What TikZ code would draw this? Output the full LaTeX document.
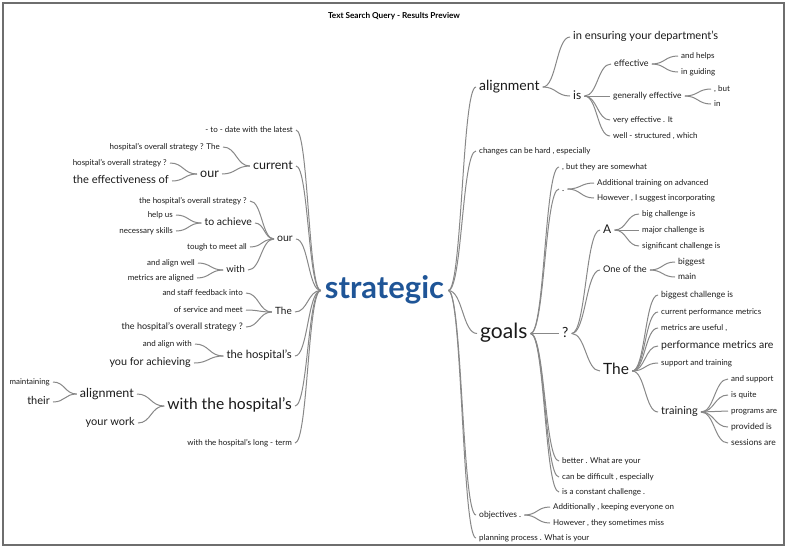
\documentclass[tikz,border=0pt]{standalone}
\usepackage{fontspec}
\setmainfont{Lato}
\usetikzlibrary{calc}

\definecolor{wordink}{HTML}{1A1A1A}
\definecolor{rootblue}{HTML}{1F5597}
\definecolor{linkgray}{HTML}{888888}
\definecolor{framegray}{HTML}{6E6E6E}

\tikzset{
  fs/.style={font=\fontsize{#1}{#1}\selectfont, text height=#1*0.76pt, text depth=#1*0.25pt},
  lw/.style={anchor=east, inner xsep=3pt, inner ysep=0pt, text=wordink},
  rw/.style={anchor=west, inner xsep=3pt, inner ysep=0pt, text=wordink},
  link/.style={draw=linkgray, line width=1pt,
    to path={let \p1=(\tikztostart), \p2=(\tikztotarget) in
      .. controls ({(\x1+\x2)/2},\y1) and ({(\x1+\x2)/2},\y2) .. (\tikztotarget)}},
}

\begin{document}
\begin{tikzpicture}[x=1pt, y=-1pt]
    \useasboundingbox (0,0) rectangle (788,550);
    \draw[framegray, line width=1.3pt] (3,3) rectangle (784,545);
    \node[font=\bfseries\fontsize{8.2}{8.2}\selectfont] (title) at (394,16) {Text Search Query - Results Preview};

    \node[fs=31, text=rootblue, font=\bfseries\fontsize{31}{31}\selectfont, inner xsep=4pt] (root) at (384.5,290.5) {strategic};

    % left side
    \node[lw, fs=8] (c1) at (296,130) {- to - date with the latest};
    \node[lw, fs=12.5] (cur) at (296,166) {current};
    \node[lw, fs=8] (cur1) at (223,147) {hospital's overall strategy ? The};
    \node[lw, fs=12.5] (our1) at (222,174) {our};
    \node[lw, fs=8] (our1a) at (170,163) {hospital's overall strategy ?};
    \node[lw, fs=11.1] (our1b) at (172,181) {the effectiveness of};
    \node[lw, fs=10.5] (our2) at (296,239) {our};
    \node[lw, fs=8] (our2a) at (250,201) {the hospital's overall strategy ?};
    \node[lw, fs=10.5] (ach) at (255,223) {to achieve};
    \node[lw, fs=8] (ach1) at (176,215) {help us};
    \node[lw, fs=8] (ach2) at (176,231) {necessary skills};
    \node[lw, fs=8] (our2c) at (250,247) {tough to meet all};
    \node[lw, fs=9.5] (with) at (248,270) {with};
    \node[lw, fs=8] (with1) at (198,263) {and align well};
    \node[lw, fs=8] (with2) at (197,278) {metrics are aligned};
    \node[lw, fs=10] (the) at (295,312) {The};
    \node[lw, fs=8] (the1) at (246,293) {and staff feedback into};
    \node[lw, fs=8] (the2) at (246,310) {of service and meet};
    \node[lw, fs=9] (the3) at (246,327) {the hospital's overall strategy ?};
    \node[lw, fs=11.3] (hosp) at (295,356) {the hospital's};
    \node[lw, fs=8] (hosp1) at (195,344) {and align with};
    \node[lw, fs=10.8] (hosp2) at (194,363) {you for achieving};
    \node[lw, fs=15.6] (wth) at (295,406) {with the hospital's};
    \node[lw, fs=12.5] (lal) at (137,394) {alignment};
    \node[lw, fs=7.9] (lal1) at (53,382) {maintaining};
    \node[lw, fs=11] (lal2) at (53,402) {their};
    \node[lw, fs=11] (work) at (138,423) {your work};
    \node[lw, fs=8] (long) at (295,443) {with the hospital's long - term};

    % right side
    \node[rw, fs=14] (ral) at (476,87) {alignment};
    \node[rw, fs=11.1] (ens) at (570,37) {in ensuring your department's};
    \node[rw, fs=12] (is) at (570,96) {is};
    \node[rw, fs=9] (eff) at (611,64) {effective};
    \node[rw, fs=8] (eff1) at (678,56) {and helps};
    \node[rw, fs=8] (eff2) at (678,72) {in guiding};
    \node[rw, fs=8.5] (gen) at (610,96) {generally effective};
    \node[rw, fs=8] (gen1) at (711,89) {, but};
    \node[rw, fs=8] (gen2) at (711,104) {in};
    \node[rw, fs=8] (very) at (610,120) {very effective . It};
    \node[rw, fs=8] (well) at (610,136) {well - structured , which};
    \node[rw, fs=8] (chg) at (476,151) {changes can be hard , especially};
    \node[rw, fs=21] (goals) at (477,333.5) {goals};
    \node[rw, fs=8] (g1) at (559,167) {, but they are somewhat};
    \node[rw, fs=9] (dot) at (559,189) {.};
    \node[rw, fs=8] (dot1) at (594,183) {Additional training on advanced};
    \node[rw, fs=8] (dot2) at (594,198) {However , I suggest incorporating};
    \node[rw, fs=14] (q) at (559,333.5) {?};
    \node[rw, fs=12] (A) at (600,230) {A};
    \node[rw, fs=8] (A1) at (639,214) {big challenge is};
    \node[rw, fs=8] (A2) at (639,230) {major challenge is};
    \node[rw, fs=8] (A3) at (639,246) {significant challenge is};
    \node[rw, fs=9.2] (one) at (600,270) {One of the};
    \node[rw, fs=8.5] (one1) at (675,262) {biggest};
    \node[rw, fs=8.5] (one2) at (675,277) {main};
    \node[rw, fs=15.5] (The) at (600,371) {The};
    \node[rw, fs=8.5] (t1) at (658,295) {biggest challenge is};
    \node[rw, fs=8] (t2) at (658,312) {current performance metrics};
    \node[rw, fs=8] (t3) at (658,328) {metrics are useful ,};
    \node[rw, fs=10.5] (t4) at (658,346) {performance metrics are};
    \node[rw, fs=8] (t5) at (658,363) {support and training};
    \node[rw, fs=11] (trn) at (658,412) {training};
    \node[rw, fs=8] (tr1) at (728,379) {and support};
    \node[rw, fs=8] (tr2) at (728,395) {is quite};
    \node[rw, fs=8] (tr3) at (728,411) {programs are};
    \node[rw, fs=8.5] (tr4) at (728,427) {provided is};
    \node[rw, fs=8.5] (tr5) at (728,443) {sessions are};
    \node[rw, fs=8] (g2) at (559,461) {better . What are your};
    \node[rw, fs=8] (g3) at (559,477) {can be difficult , especially};
    \node[rw, fs=8] (g4) at (559,492) {is a constant challenge .};
    \node[rw, fs=8.5] (obj) at (476,515) {objectives .};
    \node[rw, fs=8] (obj1) at (550,507) {Additionally , keeping everyone on};
    \node[rw, fs=8] (obj2) at (550,523) {However , they sometimes miss};
    \node[rw, fs=8] (plan) at (476,538) {planning process . What is your};

    % connectors, left side
    \draw[link] (c1.east) to (root.west);
    \draw[link] (cur.east) to (root.west);
    \draw[link] (cur1.east) to (cur.west);
    \draw[link] (our1.east) to (cur.west);
    \draw[link] (our1a.east) to (our1.west);
    \draw[link] (our1b.east) to (our1.west);
    \draw[link] (our2.east) to (root.west);
    \draw[link] (our2a.east) to (our2.west);
    \draw[link] (ach.east) to (our2.west);
    \draw[link] (ach1.east) to (ach.west);
    \draw[link] (ach2.east) to (ach.west);
    \draw[link] (our2c.east) to (our2.west);
    \draw[link] (with.east) to (our2.west);
    \draw[link] (with1.east) to (with.west);
    \draw[link] (with2.east) to (with.west);
    \draw[link] (the.east) to (root.west);
    \draw[link] (the1.east) to (the.west);
    \draw[link] (the2.east) to (the.west);
    \draw[link] (the3.east) to (the.west);
    \draw[link] (hosp.east) to (root.west);
    \draw[link] (hosp1.east) to (hosp.west);
    \draw[link] (hosp2.east) to (hosp.west);
    \draw[link] (wth.east) to (root.west);
    \draw[link] (lal.east) to (wth.west);
    \draw[link] (lal1.east) to (lal.west);
    \draw[link] (lal2.east) to (lal.west);
    \draw[link] (work.east) to (wth.west);
    \draw[link] (long.east) to (root.west);

    % connectors, right side
    \draw[link] (root.east) to (ral.west);
    \draw[link] (ral.east) to (ens.west);
    \draw[link] (ral.east) to (is.west);
    \draw[link] (is.east) to (eff.west);
    \draw[link] (eff.east) to (eff1.west);
    \draw[link] (eff.east) to (eff2.west);
    \draw[link] (is.east) to (gen.west);
    \draw[link] (gen.east) to (gen1.west);
    \draw[link] (gen.east) to (gen2.west);
    \draw[link] (is.east) to (very.west);
    \draw[link] (is.east) to (well.west);
    \draw[link] (root.east) to (chg.west);
    \draw[link] (root.east) to (goals.west);
    \draw[link] (goals.east) to (g1.west);
    \draw[link] (goals.east) to (dot.west);
    \draw[link] (dot.east) to (dot1.west);
    \draw[link] (dot.east) to (dot2.west);
    \draw[link] (goals.east) to (q.west);
    \draw[link] (q.east) to (A.west);
    \draw[link] (A.east) to (A1.west);
    \draw[link] (A.east) to (A2.west);
    \draw[link] (A.east) to (A3.west);
    \draw[link] (q.east) to (one.west);
    \draw[link] (one.east) to (one1.west);
    \draw[link] (one.east) to (one2.west);
    \draw[link] (q.east) to (The.west);
    \draw[link] (The.east) to (t1.west);
    \draw[link] (The.east) to (t2.west);
    \draw[link] (The.east) to (t3.west);
    \draw[link] (The.east) to (t4.west);
    \draw[link] (The.east) to (t5.west);
    \draw[link] (The.east) to (trn.west);
    \draw[link] (trn.east) to (tr1.west);
    \draw[link] (trn.east) to (tr2.west);
    \draw[link] (trn.east) to (tr3.west);
    \draw[link] (trn.east) to (tr4.west);
    \draw[link] (trn.east) to (tr5.west);
    \draw[link] (goals.east) to (g2.west);
    \draw[link] (goals.east) to (g3.west);
    \draw[link] (goals.east) to (g4.west);
    \draw[link] (root.east) to (obj.west);
    \draw[link] (obj.east) to (obj1.west);
    \draw[link] (obj.east) to (obj2.west);
    \draw[link] (root.east) to (plan.west);
\end{tikzpicture}
\end{document}
